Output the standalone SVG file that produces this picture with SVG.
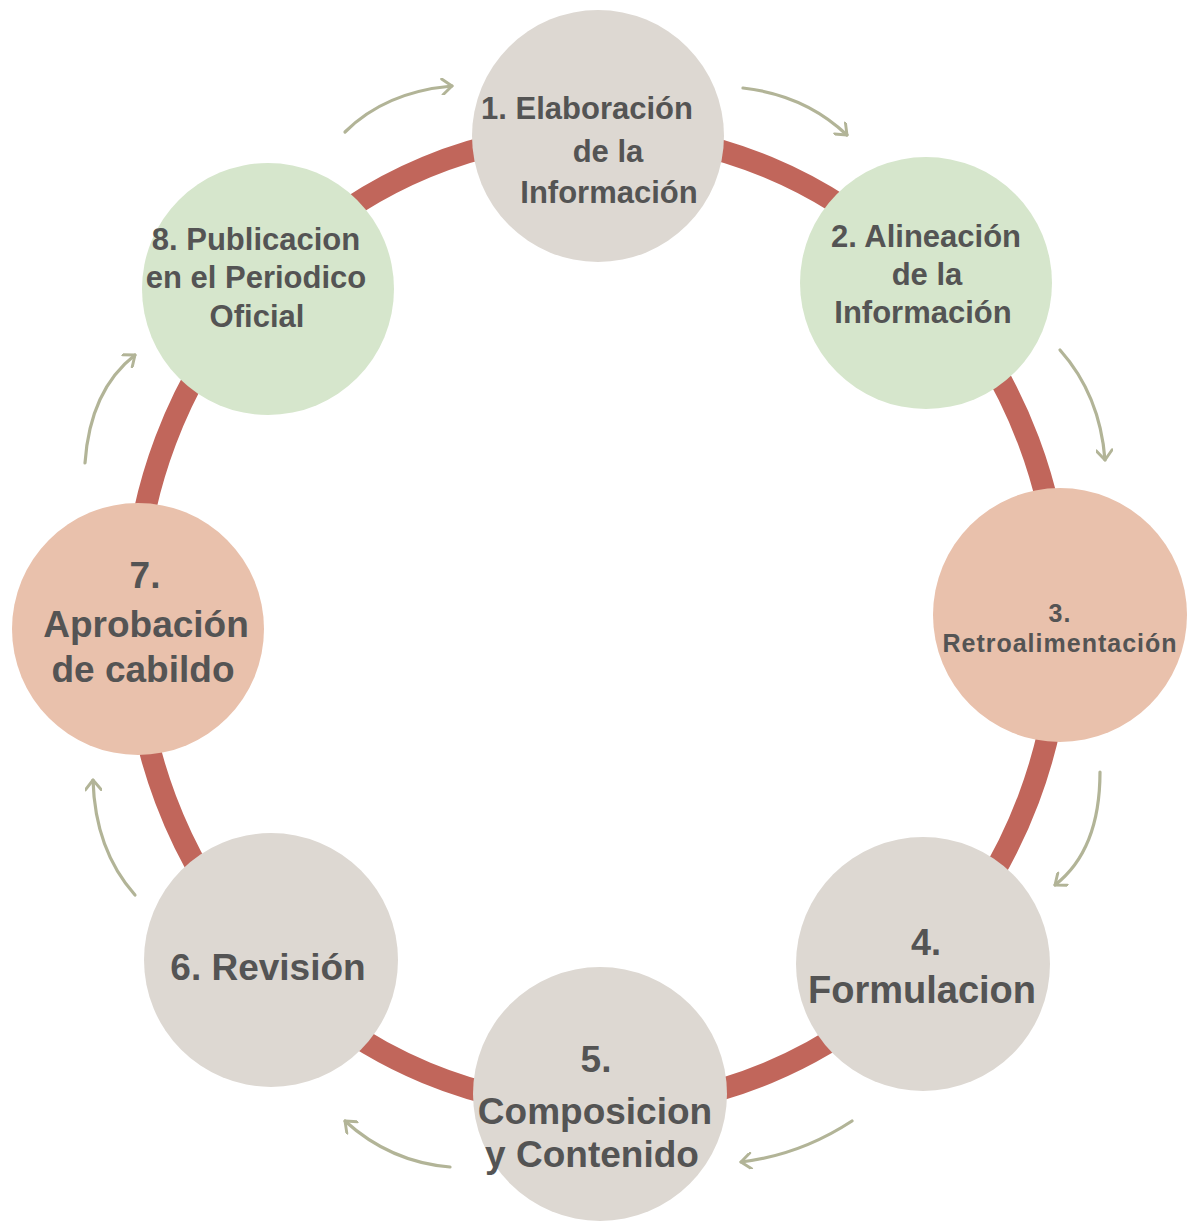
<svg xmlns="http://www.w3.org/2000/svg" width="1194" height="1232" viewBox="0 0 1194 1232">
<style>
.lbl{font-family:"Liberation Sans",Arial,sans-serif;font-weight:bold;fill:#545454;text-anchor:middle}
.gray{fill:#ddd8d2}
.green{fill:#d6e6cc}
.peach{fill:#e9c1ac}
.arr{fill:none;stroke:#b2b497;stroke-width:3.2;stroke-linecap:round;marker-end:url(#head)}
</style>
<defs>
<marker id="head" viewBox="0 0 14 14" refX="11" refY="7" markerWidth="17" markerHeight="17" markerUnits="userSpaceOnUse" orient="auto">
<path d="M3,0.5 L11,7 L3,13.5" fill="none" stroke="#b2b497" stroke-width="2.4" stroke-linecap="round" stroke-linejoin="round"/>
</marker>
</defs>
<rect width="1194" height="1232" fill="#ffffff"/>
<g id="ring">
<ellipse cx="597" cy="620" rx="464" ry="487" fill="none" stroke="#c1665b" stroke-width="22"/>
</g>
<g id="connectors">
<path class="arr" d="M345,132 Q385,92 452,86"/>
<path class="arr" d="M743,88 Q805,95 847,135"/>
<path class="arr" d="M1060,350 Q1100,395 1105,460"/>
<path class="arr" d="M1100,772 Q1100,850 1055,885"/>
<path class="arr" d="M852,1121 Q800,1155 741,1162"/>
<path class="arr" d="M450,1167 Q390,1162 345,1121"/>
<path class="arr" d="M135,895 Q95,850 93,780"/>
<path class="arr" d="M85,463 Q90,390 135,355"/>
</g>
<g id="node1">
<circle class="gray" cx="598" cy="136" r="126"/>
<text class="lbl" font-size="31"><tspan x="587" y="119">1. Elaboración</tspan><tspan x="608" y="162">de la</tspan><tspan x="609" y="203">Información</tspan></text>
</g>
<g id="node2">
<circle class="green" cx="926" cy="283" r="126"/>
<text class="lbl" font-size="31"><tspan x="926" y="247">2. Alineación</tspan><tspan x="927" y="285">de la</tspan><tspan x="923" y="323">Información</tspan></text>
</g>
<g id="node3">
<circle class="peach" cx="1060" cy="615" r="127"/>
<text class="lbl" font-size="25" letter-spacing="1"><tspan x="1060" y="622">3.</tspan><tspan x="1060" y="652">Retroalimentación</tspan></text>
</g>
<g id="node4">
<circle class="gray" cx="923" cy="964" r="127"/>
<text class="lbl"><tspan x="926" y="955" font-size="36">4.</tspan><tspan x="922" y="1003" font-size="38">Formulacion</tspan></text>
</g>
<g id="node5">
<circle class="gray" cx="600" cy="1094" r="127"/>
<text class="lbl" font-size="37"><tspan x="596" y="1072">5.</tspan><tspan x="595" y="1124">Composicion</tspan><tspan x="592" y="1167">y Contenido</tspan></text>
</g>
<g id="node6">
<circle class="gray" cx="271" cy="960" r="127"/>
<text class="lbl" font-size="37" x="268" y="980">6. Revisión</text>
</g>
<g id="node7">
<circle class="peach" cx="138" cy="629" r="126"/>
<text class="lbl" font-size="37"><tspan x="145" y="588">7.</tspan><tspan x="146" y="637">Aprobación</tspan><tspan x="143" y="682">de cabildo</tspan></text>
</g>
<g id="node8">
<circle class="green" cx="268" cy="289" r="126"/>
<text class="lbl" font-size="31"><tspan x="256" y="250">8. Publicacion</tspan><tspan x="256" y="288">en el Periodico</tspan><tspan x="257" y="327">Oficial</tspan></text>
</g>
</svg>
